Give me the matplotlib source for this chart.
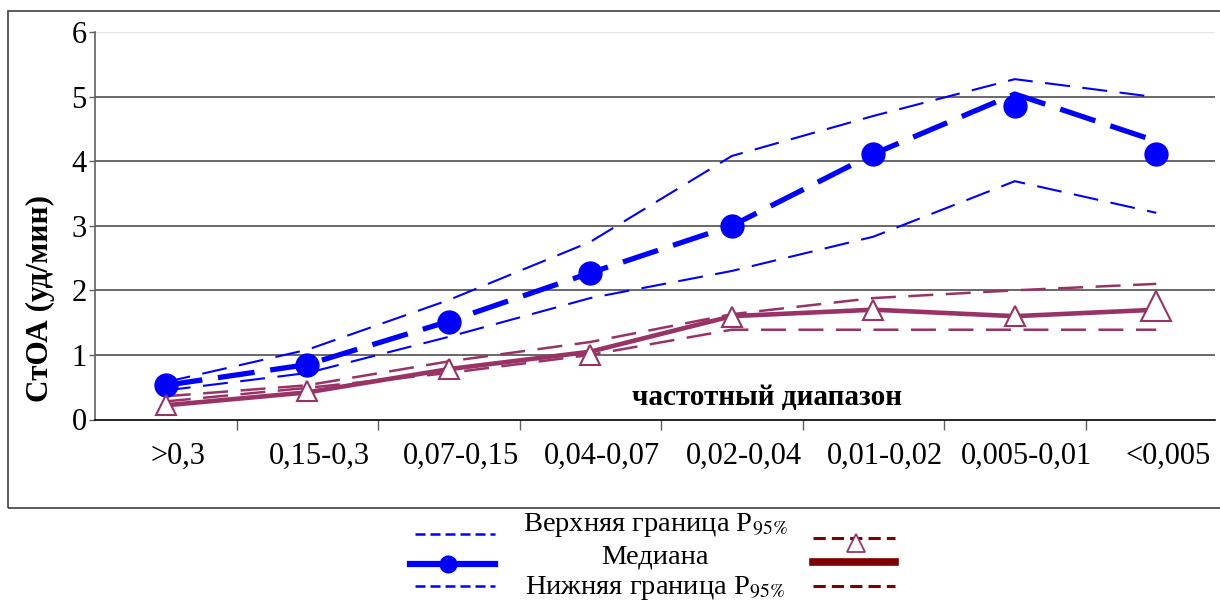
import matplotlib
matplotlib.use("Agg")
import matplotlib.pyplot as plt
import matplotlib.transforms as mtransforms
from matplotlib.lines import Line2D
from matplotlib.patches import Rectangle
import numpy as np

# ---- data ----
categories = [">0,3", "0,15-0,3", "0,07-0,15", "0,04-0,07", "0,02-0,04",
              "0,01-0,02", "0,005-0,01", "<0,005"]
blue_upper = [0.58, 1.08, 1.85, 2.75, 4.08, 4.70, 5.27, 4.99]
blue_median_line = [0.53, 0.85, 1.52, 2.27, 3.00, 4.11, 5.04, 4.31]
blue_median_pts = [0.53, 0.85, 1.51, 2.27, 3.00, 4.11, 4.85, 4.11]
blue_lower = [0.45, 0.72, 1.28, 1.88, 2.30, 2.83, 3.69, 3.20]
purple_upper = [0.36, 0.53, 0.90, 1.20, 1.63, 1.88, 2.00, 2.10]
purple_median = [0.22, 0.42, 0.78, 1.05, 1.60, 1.70, 1.60, 1.70]
purple_lower = [0.28, 0.49, 0.72, 1.00, 1.39, 1.39, 1.39, 1.39]
purple_pts = [0.22, 0.44, 0.78, 1.00, 1.59, 1.69, 1.60, 1.75]
y_ticks = [0, 1, 2, 3, 4, 5, 6]

BLUE = "#0000FF"
PURPLE = "#993366"
DARKRED = "#800000"
SERIF = ["Liberation Serif", "DejaVu Serif"]

W, H = 1220, 603
fig = plt.figure(figsize=(W / 100, H / 100), dpi=100)
fig.patch.set_facecolor("white")

def fx(px):
    return px / W

def fy(py):
    return 1 - py / H

# outer frame
fig.add_artist(Rectangle((fx(8), fy(508)), fx(1230) - fx(8), fy(11) - fy(508),
                         transform=fig.transFigure, fill=False,
                         edgecolor="#404040", linewidth=1.2))

ax = fig.add_axes([fx(95), fy(419.5), fx(1215) - fx(95), fy(32) - fy(419.5)])
x = np.arange(len(categories))
ax.set_xlim(-0.5, 7.415)
ax.set_ylim(0, 6)

# grid
for v in y_ticks[1:-1]:
    ax.axhline(v, color="#404040", linewidth=1.1, zorder=0)
ax.axhline(6, color="#e6e6e6", linewidth=0.8, zorder=0)

for s in ["top", "right"]:
    ax.spines[s].set_visible(False)
ax.spines["left"].set_color("#606060")
ax.spines["left"].set_linewidth(1.2)
ax.spines["bottom"].set_color("black")
ax.spines["bottom"].set_linewidth(1.2)

ax.set_yticks(y_ticks)
ax.set_yticklabels([str(v) for v in y_ticks], fontsize=22, family=SERIF)
ax.tick_params(axis="y", length=4, width=1, color="#606060", pad=2)

ax.set_xticks(x)
ax.set_xticklabels(categories, fontsize=22, family=SERIF)
ax.tick_params(axis="x", which="major", length=0, pad=16)
ax.set_xticks(np.arange(0.5, len(categories) - 1, 1.0), minor=True)
ax.tick_params(axis="x", which="minor", length=7, width=1, color="#606060")
offset = mtransforms.ScaledTranslation(12 / 100, 0, fig.dpi_scale_trans)
for lab in ax.get_xticklabels():
    lab.set_transform(lab.get_transform() + offset)

# series
l, = ax.plot(x, blue_upper, color=BLUE, lw=1.5, zorder=3)
l.set_dashes((12, 6))
l, = ax.plot(x, blue_lower, color=BLUE, lw=1.5, zorder=3)
l.set_dashes((12, 6))
l, = ax.plot(x, blue_median_line, color=BLUE, lw=3.8, zorder=4)
l.set_dashes((7, 3))
ax.plot(x, blue_median_pts, linestyle="none", marker="o", markersize=16.5,
        color=BLUE, zorder=5)

l, = ax.plot(x, purple_upper, color=PURPLE, lw=1.8, zorder=3)
l.set_dashes((10, 5))
l, = ax.plot(x, purple_lower, color=PURPLE, lw=1.8, zorder=3)
l.set_dashes((10, 5))
ax.plot(x, purple_median, color=PURPLE, lw=3.3, zorder=4,
        solid_capstyle="butt")
ax.plot(x[:-1], purple_pts[:-1], linestyle="none", marker="^", markersize=14,
        markerfacecolor="white", markeredgecolor=PURPLE, markeredgewidth=1.5,
        zorder=5)
ax.plot(x[-1:], purple_pts[-1:], linestyle="none", marker="^", markersize=22,
        markerfacecolor="white", markeredgecolor=PURPLE, markeredgewidth=1.5,
        zorder=5)

ax.text(0.600, 0.057, "частотный диапазон", transform=ax.transAxes,
        ha="center", va="center", fontsize=21, fontweight="bold", family=SERIF)

fig.text(fx(40), fy(298), "СтОА (уд/мин)", rotation=90, ha="center",
         va="center", fontsize=22.5, fontweight="bold", family=SERIF)

# legend
fig.text(fx(655), fy(525), "Верхняя граница P$_{95\\%}$", ha="center",
         va="center", fontsize=20.5, family=SERIF, math_fontfamily="stix")
fig.text(fx(655), fy(557), "Медиана", ha="center", va="center",
         fontsize=20.5, family=SERIF)
fig.text(fx(655), fy(588), "Нижняя граница P$_{95\\%}$", ha="center",
         va="center", fontsize=20.5, family=SERIF, math_fontfamily="stix")

def leg_line(x0, x1, yy, color, lw, dashes=None, **kw):
    ln = Line2D([fx(x0), fx(x1)], [fy(yy), fy(yy)], transform=fig.transFigure,
                color=color, lw=lw, **kw)
    if dashes is not None:
        ln.set_dashes(dashes)
    fig.add_artist(ln)
    return ln

leg_line(415, 495, 534, BLUE, 1.8, (4, 2))
leg_line(410, 495, 564, BLUE, 4.5)
fig.add_artist(Line2D([fx(448)], [fy(564)], transform=fig.transFigure,
                      marker="o", markersize=12, color=BLUE, linestyle="none"))
leg_line(415, 495, 586, BLUE, 1.8, (4, 2))

leg_line(813, 895, 538, DARKRED, 2.2, (4, 2))
fig.add_artist(Line2D([fx(856)], [fy(543)], transform=fig.transFigure,
                      marker="^", markersize=13, markerfacecolor="white",
                      markeredgecolor=PURPLE, markeredgewidth=1.3,
                      linestyle="none"))
leg_line(813, 895, 562, DARKRED, 5.5)
leg_line(813, 895, 586, DARKRED, 2.2, (4, 2))

fig.savefig("out.png", dpi=100, facecolor="white")
